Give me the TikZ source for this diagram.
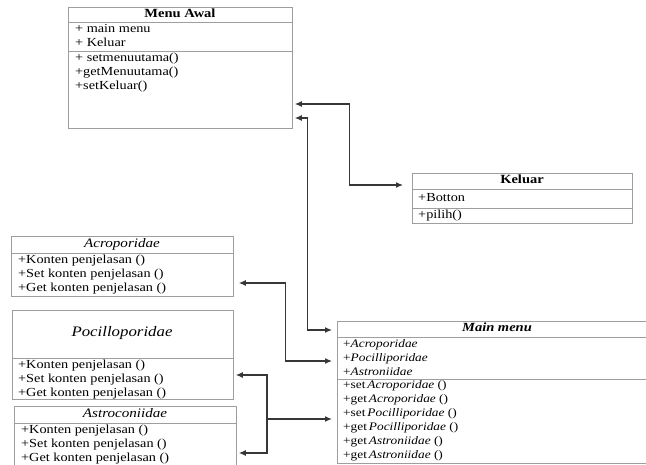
\documentclass[tikz,border=0pt]{standalone}
\usepackage{fontspec}
\setmainfont{Liberation Serif}[FakeStretch=1.16]
\usetikzlibrary{arrows.meta}
\definecolor{boxgray}{RGB}{158,158,158}
\definecolor{linkgray}{RGB}{55,55,55}

\begin{document}
\begin{tikzpicture}[x=1pt,y=-1pt]

%
% Styles
%
\tikzstyle{box}   = [draw=boxgray, line width=0.8pt, anchor=north west, inner sep=0pt, rectangle]
\tikzstyle{rule}  = [draw=boxgray, line width=0.8pt]
\tikzstyle{row}   = [anchor=west, inner sep=0pt, text height=8pt, text depth=2.5pt, font=\fontsize{12.3}{14}\selectfont]
\tikzstyle{mrow}  = [row, font=\fontsize{11.5}{14}\selectfont]
\tikzstyle{title} = [inner sep=0pt, text height=8.5pt, text depth=2.5pt, font=\fontsize{12.5}{14}\selectfont]
\tikzstyle{link}  = [<->, >={Latex[length=7pt,width=6pt]}, draw=linkgray, line width=1.2pt]

\useasboundingbox (0,0) rectangle (646,465);

%
% Classes
%
\node[box, minimum width=224pt, minimum height=121pt] (awal)    at ( 68,  7) {};
\node[box, minimum width=220pt, minimum height=50pt]  (keluar)  at (412,173) {};
\node[box, minimum width=222pt, minimum height=60pt]  (acro)    at ( 11,236) {};
\node[box, minimum width=221pt, minimum height=89pt]  (pocillo) at ( 12,310) {};
\node[box, minimum width=222pt, minimum height=62pt]  (astro)   at ( 14,406) {};
\node[box, minimum width=320pt, minimum height=142pt] (main)    at (337,321) {};

\draw[rule] ([yshift=-15pt]awal.north west)    -- ([yshift=-15pt]awal.north east);
\draw[rule] ([yshift=-44pt]awal.north west)    -- ([yshift=-44pt]awal.north east);
\draw[rule] ([yshift=-16pt]keluar.north west)  -- ([yshift=-16pt]keluar.north east);
\draw[rule] ([yshift=-35pt]keluar.north west)  -- ([yshift=-35pt]keluar.north east);
\draw[rule] ([yshift=-17pt]acro.north west)    -- ([yshift=-17pt]acro.north east);
\draw[rule] ([yshift=-48pt]pocillo.north west) -- ([yshift=-48pt]pocillo.north east);
\draw[rule] ([yshift=-17pt]astro.north west)   -- ([yshift=-17pt]astro.north east);
\draw[rule] ([yshift=-16pt]main.north west)    -- ([yshift=-16pt]main.north east);
\draw[rule] ([yshift=-58pt]main.north west)    -- ([yshift=-58pt]main.north east);

% Menu Awal
\node[title] (awalT) at (180,14.5) {\textbf{Menu Awal}};
\node[row]   (awal1) at ( 75, 29.5) {+ main menu};
\node[row]   (awal2) at ( 75, 43.5) {+ Keluar};
\node[row]   (awal3) at ( 75, 59)   {+ setmenuutama()};
\node[row]   (awal4) at ( 75, 73)   {+getMenuutama()};
\node[row]   (awal5) at ( 75, 87)   {+setKeluar()};

% Keluar
\node[title] (keluarT) at (522,181)   {\textbf{Keluar}};
\node[row]   (keluar1) at (418,198.5) {+Botton};
\node[row]   (keluar2) at (418,215.5) {+pilih()};

% Acroporidae
\node[title, font=\fontsize{13}{14}\selectfont] (acroT) at (122,244.5) {\textit{Acroporidae}};
\node[row] (acro1) at (18,261) {+Konten penjelasan ()};
\node[row] (acro2) at (18,275) {+Set konten penjelasan ()};
\node[row] (acro3) at (18,289) {+Get konten penjelasan ()};

% Pocilloporidae
\node[title, font=\fontsize{14.5}{16}\selectfont] (pocilloT) at (122,334) {\textit{Pocilloporidae}};
\node[row] (pocillo1) at (18,366) {+Konten penjelasan ()};
\node[row] (pocillo2) at (18,380) {+Set konten penjelasan ()};
\node[row] (pocillo3) at (18,394) {+Get konten penjelasan ()};

% Astroconiidae
\node[title, font=\fontsize{13}{14}\selectfont] (astroT) at (125,414.5) {\textit{Astroconiidae}};
\node[row] (astro1) at (21,431) {+Konten penjelasan ()};
\node[row] (astro2) at (21,445) {+Set konten penjelasan ()};
\node[row] (astro3) at (21,459) {+Get konten penjelasan ()};

% Main menu
\node[title] (mainT) at (497,329) {\textbf{\textit{Main menu}}};
\node[mrow] (main1) at (343,345) {+\textit{Acroporidae}};
\node[mrow] (main2) at (343,359) {+\textit{Pocilliporidae}};
\node[mrow] (main3) at (343,373) {+\textit{Astroniidae}};
\node[mrow] (main4) at (343,386) {+set\,\textit{Acroporidae} ()};
\node[mrow] (main5) at (343,400) {+get\,\textit{Acroporidae} ()};
\node[mrow] (main6) at (343,414) {+set\,\textit{Pocilliporidae} ()};
\node[mrow] (main7) at (343,428) {+get\,\textit{Pocilliporidae} ()};
\node[mrow] (main8) at (343,442) {+get\,\textit{Astroniidae} ()};
\node[mrow] (main9) at (343,456) {+get\,\textit{Astroniidae} ()};

%
% Links
%
\coordinate (fork) at (267,419);

\draw[link, shorten <=2pt, shorten >=9pt] ([yshift=-97pt]awal.north east) -- ++(57,0) |- ([yshift=-12pt]keluar.north west);
\draw[link, shorten <=2pt, shorten >=5pt] ([yshift=-111pt]awal.north east) -- ++(15,0) |- ([yshift=-9pt]main.north west);
\draw[link, shorten <=5pt, shorten >=5pt] ([yshift=-47pt]acro.north east) -- ++(52,0) |- ([yshift=-40pt]main.north west);
\draw[link, shorten <=2pt, shorten >=2pt] ([yshift=-65pt]pocillo.north east) -| (fork) |- ([yshift=-47pt]astro.north east);
\draw[link, <-, line width=2.2pt, shorten <=5pt] (main.west |- fork) -- (fork);

\end{tikzpicture}
\end{document}
